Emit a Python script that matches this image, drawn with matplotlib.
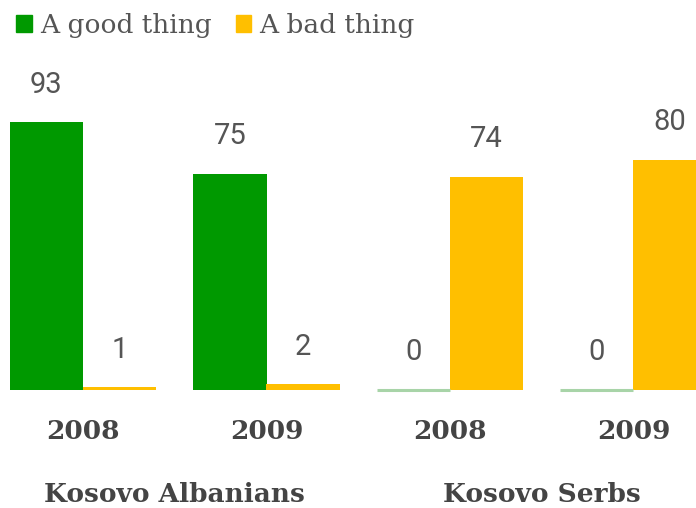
import numpy as np
import matplotlib.pyplot as plt
from matplotlib.patches import Patch

years = ["2008", "2009", "2008", "2009"]
groups = ["Kosovo Albanians", "Kosovo Serbs"]
good = [93, 75, 0, 0]
bad = [1, 2, 74, 80]

GREEN = "#009900"
GREEN_ZERO = "#a8d4a8"
YELLOW = "#ffbf00"
TEXT = "#444444"
VALUE = "#555555"

fig = plt.figure(figsize=(6.96, 5.08), dpi=100)
# axes fills the width; the last bar runs past the right edge
ax = fig.add_axes([0, 118 / 508, 1, 330 / 508])

x = np.arange(len(years))
w = 0.4
ax.bar(x - w / 2, good, w, color=GREEN, linewidth=0)
ax.bar(x + w / 2, bad, w, color=YELLOW, linewidth=0)

# zero values still get a faint stub along the baseline
for xi, g in zip(x, good):
    if g == 0:
        ax.hlines(g, xi - w, xi, color=GREEN_ZERO, linewidth=2.2, clip_on=False)

ax.set_xlim(-83 / 183.5, (696 - 83) / 183.5)
ax.set_ylim(0, 330 / 2.88)
ax.axis("off")

for xi, g, b in zip(x, good, bad):
    ax.annotate(str(g), (xi - w / 2, g), xytext=(0, 27), textcoords="offset points",
                ha="center", va="center", fontsize=21, color=VALUE, family="Roboto")
    ax.annotate(str(b), (xi + w / 2, b), xytext=(0, 27), textcoords="offset points",
                ha="center", va="center", fontsize=21, color=VALUE, family="Roboto")

for xi, yr in zip(x, years):
    ax.annotate(yr, (xi, 0), xytext=(0, -30), textcoords="offset points",
                ha="center", va="center", fontsize=19, fontweight="bold",
                color=TEXT, family="DejaVu Serif")

for i, name in enumerate(groups):
    ax.annotate(name, (2 * i + 0.5, 0), xytext=(0, -75), textcoords="offset points",
                ha="center", va="center", fontsize=19, fontweight="bold",
                color=TEXT, family="DejaVu Serif")

handles = [Patch(color=GREEN), Patch(color=YELLOW)]
fig.legend(handles, ["A good thing", "A bad thing"], loc="upper left",
           bbox_to_anchor=(0.012, 0.99), ncol=2, frameon=False,
           prop={"family": "DejaVu Serif", "size": 19}, labelcolor=VALUE,
           handlelength=0.6, handleheight=0.6, handletextpad=0.3,
           columnspacing=0.9, borderaxespad=0.0, borderpad=0.3)

fig.savefig("out.png", dpi=100)
